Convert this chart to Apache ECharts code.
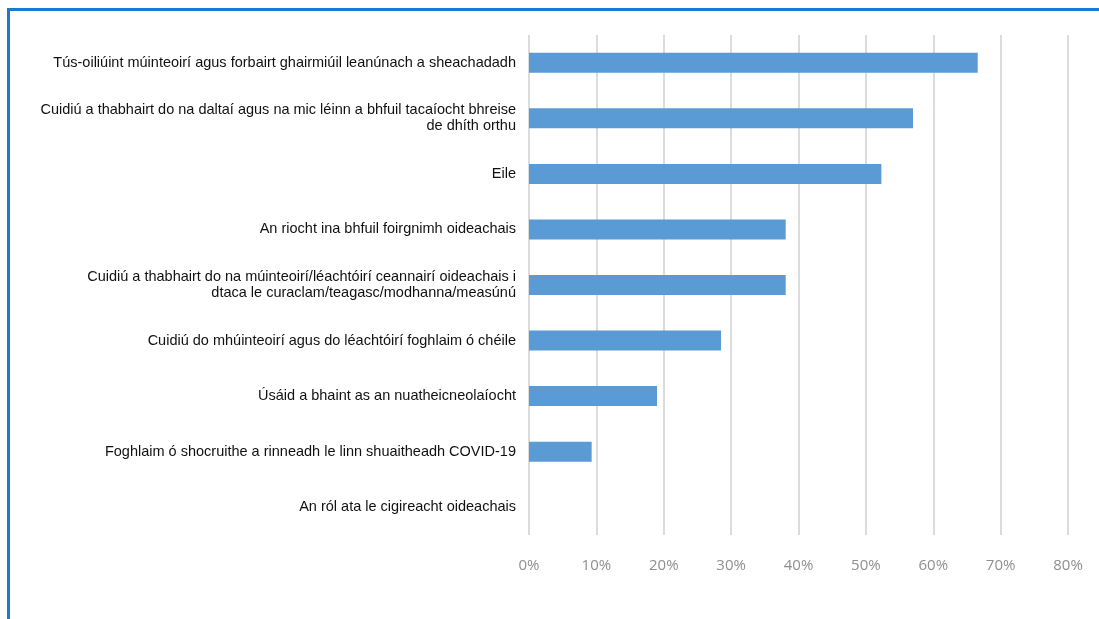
<!DOCTYPE html>
<html>
<head>
<meta charset="utf-8">
<script src="https://cdn.jsdelivr.net/npm/echarts@6/dist/echarts.min.js"></script>
<style>
html,body{margin:0;padding:0;background:#fff;}
#frame{position:absolute;left:7px;top:8px;width:1092px;height:611px;border-left:3px solid #1a7ad0;border-top:3px solid #1a7ad0;box-sizing:border-box;}
#chart{position:absolute;left:0;top:0;width:1099px;height:619px;}
</style>
</head>
<body>
<div id="frame"></div>
<div id="chart"></div>
<script>
const categories = [
  "Tús-oiliúint múinteoirí agus forbairt ghairmiúil leanúnach a sheachadadh",
  "Cuidiú a thabhairt do na daltaí agus na mic léinn a bhfuil tacaíocht bhreise\nde dhíth orthu",
  "Eile",
  "An riocht ina bhfuil foirgnimh oideachais",
  "Cuidiú a thabhairt do na múinteoirí/léachtóirí ceannairí oideachais i\ndtaca le curaclam/teagasc/modhanna/measúnú",
  "Cuidiú do mhúinteoirí agus do léachtóirí foghlaim ó chéile",
  "Úsáid a bhaint as an nuatheicneolaíocht",
  "Foghlaim ó shocruithe a rinneadh le linn shuaitheadh COVID-19",
  "An ról ata le cigireacht oideachais"
];
const values = [66.6, 57.0, 52.3, 38.1, 38.1, 28.5, 19.0, 9.3, 0];
const tickLabels = ["0%","10%","20%","30%","40%","50%","60%","70%","80%"];

const chart = echarts.init(document.getElementById('chart'), null, {renderer:'canvas'});
chart.setOption({
  animation: false,
  grid: {left: 529, right: 31, top: 35, bottom: 84, containLabel: false},
  xAxis: {
    type: 'value', min: 0, max: 80, interval: 10,
    axisLine: {show: false}, axisTick: {show: false},
    splitLine: {show: true, lineStyle: {color: '#dcdcdc', width: 2}},
    axisLabel: {
      margin: 23,
      color: '#8f8f8f',
      fontFamily: 'Open Sans',
      fontSize: 15,
      formatter: function(v){ return tickLabels[Math.round(v/10)]; }
    }
  },
  yAxis: {
    type: 'category', data: categories, inverse: true,
    axisLine: {show: false}, axisTick: {show: false},
    axisLabel: {
      margin: 13, color: '#111', fontFamily: 'Liberation Sans', fontSize: 14.5,
      lineHeight: 16, align: 'right', padding: [3, 0, 0, 0]
    }
  },
  series: [{
    type: 'bar', data: values, barWidth: 20,
    itemStyle: {color: '#5b9bd5'}
  }]
});
</script>
</body>
</html>
